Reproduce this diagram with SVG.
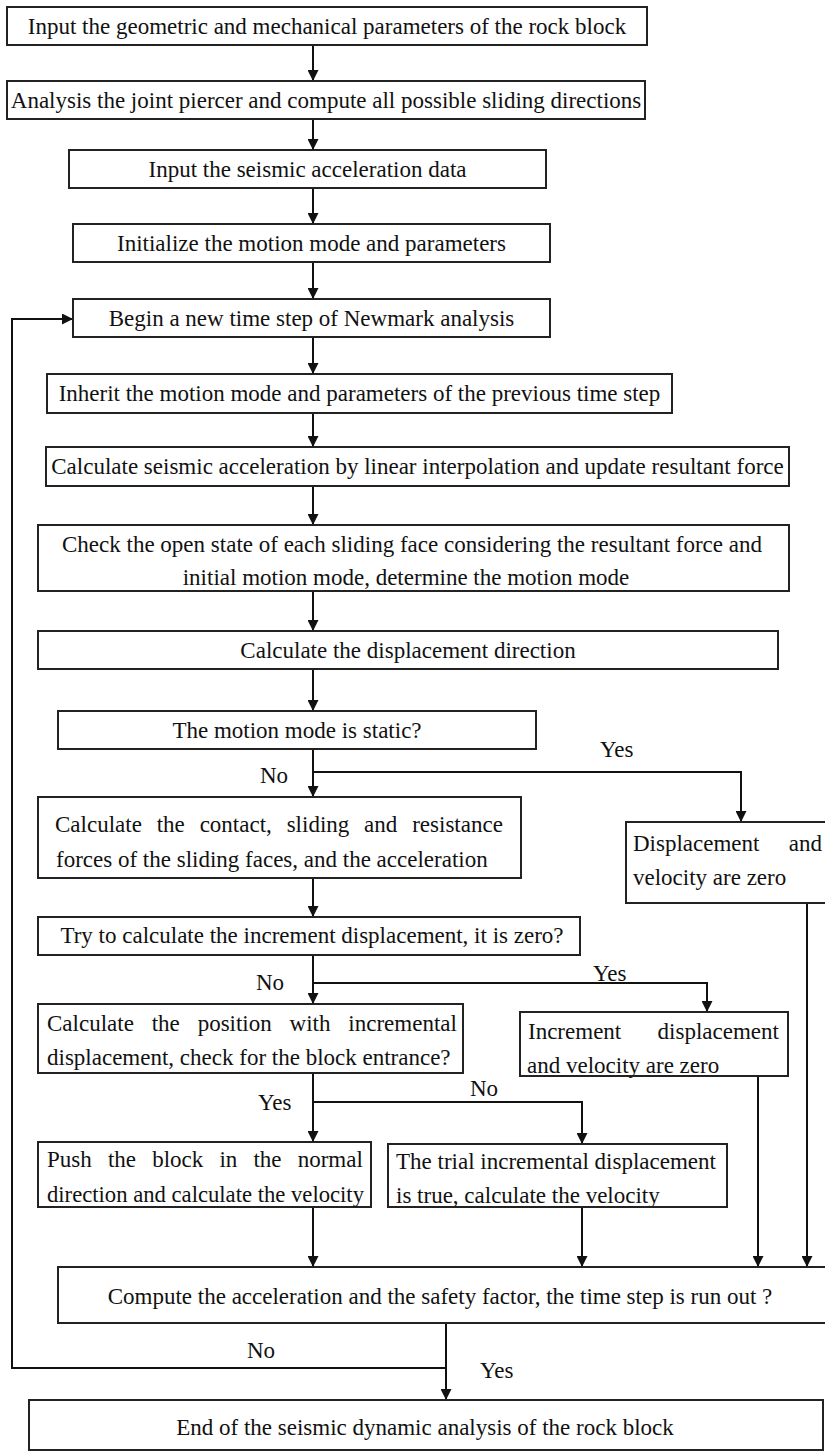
<svg xmlns="http://www.w3.org/2000/svg" width="825" height="1454" viewBox="0 0 825 1454">
<style>
.box{fill:#fff;stroke:#222;stroke-width:2}
.t{font-family:"Liberation Serif","Times New Roman",serif;font-size:23px;fill:#111}
.c{text-anchor:middle}
.conn{stroke:#111;stroke-width:2;fill:none}
</style>
<defs>
<marker id="ah" markerUnits="userSpaceOnUse" markerWidth="11" markerHeight="11" refX="11" refY="5.5" orient="auto">
<path d="M0,0 L11,5.5 L0,11 z" fill="#111"/>
</marker>
</defs>
<rect width="825" height="1454" fill="#fff"/>

<g id="connectors">
<path class="conn" marker-end="url(#ah)" d="M313,45 V81"/>
<path class="conn" marker-end="url(#ah)" d="M313,119 V150"/>
<path class="conn" marker-end="url(#ah)" d="M313,188 V224"/>
<path class="conn" marker-end="url(#ah)" d="M313,262 V299"/>
<path class="conn" marker-end="url(#ah)" d="M313,337 V374"/>
<path class="conn" marker-end="url(#ah)" d="M313,413 V447"/>
<path class="conn" marker-end="url(#ah)" d="M313,486 V525"/>
<path class="conn" marker-end="url(#ah)" d="M313,591 V631"/>
<path class="conn" marker-end="url(#ah)" d="M313,669 V711"/>
<path class="conn" marker-end="url(#ah)" d="M313,749 V797"/>
<path class="conn" marker-end="url(#ah)" d="M313,772 H741 V822"/>
<path class="conn" marker-end="url(#ah)" d="M313,878 V917"/>
<path class="conn" marker-end="url(#ah)" d="M313,955 V1004"/>
<path class="conn" marker-end="url(#ah)" d="M313,983 H707 V1012"/>
<path class="conn" marker-end="url(#ah)" d="M313,1073 V1142"/>
<path class="conn" marker-end="url(#ah)" d="M313,1102 H582 V1144"/>
<path class="conn" marker-end="url(#ah)" d="M313,1207 V1267"/>
<path class="conn" marker-end="url(#ah)" d="M582,1207 V1267"/>
<path class="conn" marker-end="url(#ah)" d="M758,1076 V1267"/>
<path class="conn" marker-end="url(#ah)" d="M807,903 V1267"/>
<path class="conn" marker-end="url(#ah)" d="M446,1323 V1400"/>
<path class="conn" marker-end="url(#ah)" d="M446,1368 H12 V319 H73"/>
<text class="t" x="600" y="757">Yes</text>
<text class="t" x="260" y="783">No</text>
<text class="t" x="593" y="981">Yes</text>
<text class="t" x="256" y="990">No</text>
<text class="t" x="258" y="1110">Yes</text>
<text class="t" x="470" y="1096">No</text>
<text class="t" x="247" y="1358">No</text>
<text class="t" x="480" y="1378">Yes</text>
</g>

<g id="n1"><rect class="box" x="7" y="7" width="640" height="38"/>
<text class="t c" x="327" y="34">Input the geometric and mechanical parameters of the rock block</text></g>

<g id="n2"><rect class="box" x="7" y="81" width="638" height="38"/>
<text class="t c" x="326" y="108">Analysis the joint piercer and compute all possible sliding directions</text></g>

<g id="n3"><rect class="box" x="69" y="150" width="477" height="38"/>
<text class="t c" x="307.5" y="177">Input the seismic acceleration data</text></g>

<g id="n4"><rect class="box" x="73" y="224" width="477" height="38"/>
<text class="t c" x="311.5" y="251">Initialize the motion mode and parameters</text></g>

<g id="n5"><rect class="box" x="73" y="299" width="477" height="38"/>
<text class="t c" x="311.5" y="326">Begin a new time step of Newmark analysis</text></g>

<g id="n6"><rect class="box" x="47" y="374" width="625" height="39"/>
<text class="t c" x="359.5" y="401">Inherit the motion mode and parameters of the previous time step</text></g>

<g id="n7"><rect class="box" x="46" y="447" width="743" height="39"/>
<text class="t c" x="417.5" y="474">Calculate seismic acceleration by linear interpolation and update resultant force</text></g>

<g id="n8"><rect class="box" x="38" y="525" width="751" height="66"/>
<text class="t c" x="412" y="552">Check the open state of each sliding face considering the resultant force and</text>
<text class="t c" x="406" y="585">initial motion mode, determine the motion mode</text></g>

<g id="n9"><rect class="box" x="38" y="631" width="740" height="38"/>
<text class="t c" x="408" y="658">Calculate the displacement direction</text></g>

<g id="n10"><rect class="box" x="58" y="711" width="478" height="38"/>
<text class="t c" x="297" y="738">The motion mode is static?</text></g>

<g id="n11"><rect class="box" x="38" y="797" width="483" height="81"/>
<text class="t" x="55" y="832" word-spacing="9.1">Calculate the contact, sliding and resistance</text>
<text class="t" x="56" y="867">forces of the sliding faces, and the acceleration</text></g>

<g id="n12"><rect class="box" x="626" y="822" width="200" height="81"/>
<text class="t" x="633" y="851" word-spacing="23.6">Displacement and</text>
<text class="t" x="633" y="885">velocity are zero</text></g>

<g id="n13"><rect class="box" x="38" y="917" width="542" height="38"/>
<text class="t c" x="312" y="943">Try to calculate the increment displacement, it is zero?</text></g>

<g id="n14"><rect class="box" x="38" y="1004" width="425" height="69"/>
<text class="t" x="47" y="1031" word-spacing="12.1">Calculate the position with incremental</text>
<text class="t" x="47" y="1065">displacement, check for the block entrance?</text></g>

<g id="n15">
<text class="t" x="528" y="1039" word-spacing="30.6">Increment displacement</text>
<text class="t" x="527" y="1073">and velocity are zero</text>
<rect class="box" x="520" y="1012" width="268" height="64" fill="none" style="fill:none"/></g>

<g id="n16"><rect class="box" x="38" y="1142" width="333" height="65"/>
<text class="t" x="47" y="1167" word-spacing="10.4">Push the block in the normal</text>
<text class="t" x="47" y="1202" textLength="317" lengthAdjust="spacingAndGlyphs">direction and calculate the velocity</text></g>

<g id="n17">
<text class="t" x="396" y="1169">The trial incremental displacement</text>
<text class="t" x="396" y="1203">is true, calculate the velocity</text>
<rect class="box" x="388" y="1144" width="339" height="63" style="fill:none"/></g>

<g id="n18"><rect class="box" x="58" y="1267" width="768" height="56"/>
<text class="t c" x="440" y="1304">Compute the acceleration and the safety factor, the time step is run out ?</text></g>

<g id="n19"><rect class="box" x="29" y="1400" width="794" height="50"/>
<text class="t c" x="425" y="1435">End of the seismic dynamic analysis of the rock block</text></g>
</svg>
